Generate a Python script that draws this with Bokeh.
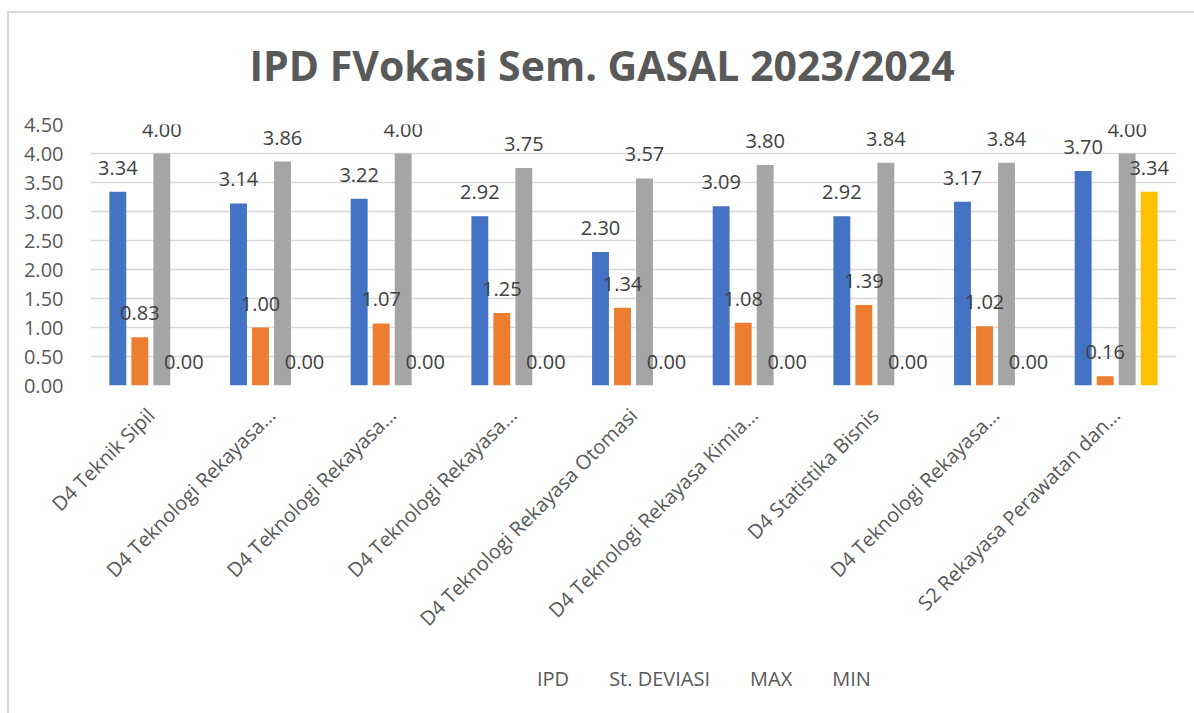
import math
from bokeh.plotting import figure
from bokeh.layouts import column
from bokeh.models import ColumnDataSource, LabelSet, FixedTicker, NumeralTickFormatter, Legend, LegendItem, Range1d, Title
from bokeh.core.properties import value
from bokeh.embed import file_html
from bokeh.resources import INLINE

categories = [
    "D4 Teknik Sipil",
    "D4 Teknologi Rekayasa\u2026",
    "D4 Teknologi Rekayasa\u2026",
    "D4 Teknologi Rekayasa\u2026",
    "D4 Teknologi Rekayasa Otomasi",
    "D4 Teknologi Rekayasa Kimia\u2026",
    "D4 Statistika Bisnis",
    "D4 Teknologi Rekayasa\u2026",
    "S2 Rekayasa Perawatan dan\u2026",
]
ipd = [3.34, 3.14, 3.22, 2.92, 2.30, 3.09, 2.92, 3.17, 3.70]
st_deviasi = [0.83, 1.00, 1.07, 1.25, 1.34, 1.08, 1.39, 1.02, 0.16]
max_vals = [4.00, 3.86, 4.00, 3.75, 3.57, 3.80, 3.84, 3.84, 4.00]
min_vals = [0.00, 0.00, 0.00, 0.00, 0.00, 0.00, 0.00, 0.00, 3.34]
y_ticks = [0.0, 0.5, 1.0, 1.5, 2.0, 2.5, 3.0, 3.5, 4.0, 4.5]

series = [
    ("IPD", ipd, "#4472C4"),
    ("St. DEVIASI", st_deviasi, "#ED7D31"),
    ("MAX", max_vals, "#A5A5A5"),
    ("MIN", min_vals, "#FFC000"),
]
offsets = [-0.2735, -0.0912, 0.0912, 0.2735]
bar_w = 0.14

FONT = "Open Sans"
TICK_COLOR = "#595959"
LABEL_COLOR = "#404040"

p = figure(width=1194, height=660, output_backend="svg", toolbar_location=None,
           x_range=Range1d(0, 9), y_range=Range1d(0, 4.5),
           min_border_left=90, min_border_right=18, min_border_top=124, min_border_bottom=275)
p.title = Title(text="IPD FVokasi Sem. GASAL 2023/2024", align="left",
                text_font=FONT, text_font_size="41px", text_font_style="bold",
                text_color="#595959", standoff=63, offset=159)
p.outline_line_color = None
p.background_fill_color = "white"
p.border_fill_color = None
p.styles = {"box-shadow": "inset 7px 11px 0 0 white, inset 9px 13px 0 0 #d9d9d9",
            "background-color": "white"}

centers = [i + 0.5 for i in range(len(categories))]
for (name, vals, color), off in zip(series, offsets):
    src = ColumnDataSource(dict(
        x=[c + off for c in centers], top=vals,
        lab=["%.2f" % v for v in vals]))
    p.vbar(x="x", top="top", width=bar_w, source=src, fill_color=color, line_color=None)
    ls = LabelSet(x="x", y="top", text="lab", source=src, text_align="center",
                  text_baseline="bottom", y_offset=17, text_font=value(FONT),
                  text_font_size="20px", text_color=LABEL_COLOR)
    p.add_layout(ls)

# axes
p.yaxis.ticker = FixedTicker(ticks=y_ticks)
p.yaxis.formatter = NumeralTickFormatter(format="0.00")
p.yaxis.axis_line_color = None
p.yaxis.major_tick_line_color = None
p.yaxis.minor_tick_line_color = None
p.yaxis.major_label_standoff = 21
p.yaxis.major_label_text_font = FONT
p.yaxis.major_label_text_font_size = "20px"
p.yaxis.major_label_text_color = TICK_COLOR

p.xaxis.ticker = FixedTicker(ticks=centers)
p.xaxis.major_label_overrides = {c: lab for c, lab in zip(centers, categories)}
p.xaxis.major_label_orientation = math.pi / 4
p.xaxis.axis_line_color = None
p.xaxis.major_tick_line_color = None
p.xaxis.minor_tick_line_color = None
p.xaxis.major_tick_out = 0
p.xaxis.major_label_standoff = 26
p.xaxis.major_label_text_font = FONT
p.xaxis.major_label_text_font_size = "20px"
p.xaxis.major_label_text_color = TICK_COLOR

p.xgrid.grid_line_color = None
p.ygrid.grid_line_color = "#d9d9d9"
p.ygrid.grid_line_width = 1.5

# legend strip below the chart
p2 = figure(width=1194, height=53, output_backend="svg", toolbar_location=None,
            x_axis_location=None, y_axis_location=None,
            x_range=Range1d(0, 1), y_range=Range1d(0, 1),
            min_border_left=0, min_border_right=0, min_border_top=0, min_border_bottom=0)
p2.outline_line_color = None
p2.grid.grid_line_color = None
p2.background_fill_color = "white"
p2.border_fill_color = None
p2.styles = {"box-shadow": "inset 7px 0 0 0 white, inset 9px 0 0 0 #d9d9d9",
             "background-color": "white"}

items = []
for name, vals, color in series:
    r = p2.vbar(x=[], top=[], width=bar_w, fill_color=color, line_color=None)
    items.append(LegendItem(label=name, renderers=[r]))

legend = Legend(items=items, orientation="horizontal", location=(427, 21),
                glyph_width=13, glyph_height=13, label_standoff=7, spacing=20,
                padding=0, margin=0, border_line_color=None, background_fill_alpha=0,
                label_text_font=FONT, label_text_font_size="20px",
                label_text_color=TICK_COLOR)
p2.add_layout(legend, "center")

layout = column(p, p2, spacing=0)
open("out.html", "w").write(file_html(layout, INLINE))
